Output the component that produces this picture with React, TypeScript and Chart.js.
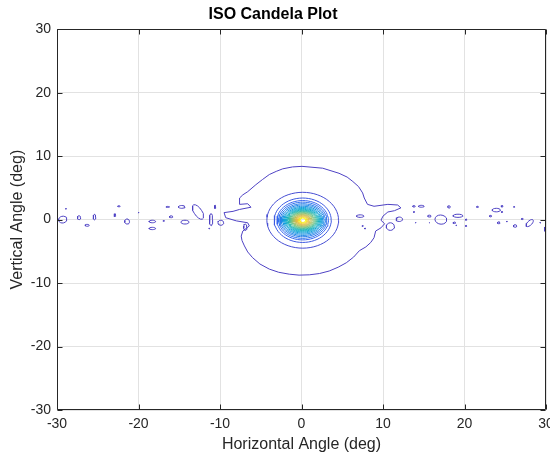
import React, { useEffect, useRef } from "react";
import { Chart, registerables } from "chart.js";

Chart.register(...registerables);

const TITLE = "ISO Candela Plot";
const X_LABEL = "Horizontal Angle (deg)";
const Y_LABEL = "Vertical Angle (deg)";
const AXIS_MIN = -30;
const AXIS_MAX = 30;
const AXIS_STEP = 10;

// Lowest-level contour (irregular), in degrees
const outerX = [0.06, 2.6, 4.6, 5.6, 6.3, 7.0, 7.5, 7.7, 8.1, 8.9, 10.6, 11.8, 12.2, 11.4, 10.6, 10.0, 9.75, 10.2, 9.75, 9.1, 8.9, 8.5, 7.9, 7.1, 6.4, 5.5, 4.5, 3.4, 2.2, 0.96, -0.3, -1.5, -2.8, -3.95, -5.1, -6.0, -6.6, -7.0, -7.3, -7.4, -7.2, -6.4, -6.6, -8.0, -9.3, -9.5, -8.4, -7.6, -6.2, -6.6, -7.6, -7.6, -7.2, -6.6, -5.6, -4.8, -3.95, -3.1, -2.3, -1.1, 0.06];
const outerY = [8.39, 8.1, 7.3, 6.7, 6.0, 5.2, 4.2, 3.4, 2.4, 2.1, 2.4, 2.3, 1.85, 1.4, 1.2, 0.55, -0.1, -0.65, -1.3, -1.8, -2.85, -3.6, -4.3, -4.9, -5.9, -6.8, -7.5, -8.1, -8.5, -8.7, -8.75, -8.6, -8.3, -7.8, -7.0, -6.0, -5.1, -4.15, -3.3, -2.6, -1.8, -1.0, -0.5, -0.2, 0.3, 1.1, 1.3, 1.6, 1.95, 2.5, 2.4, 3.4, 3.9, 4.4, 5.5, 6.3, 7.1, 7.6, 8.0, 8.3, 8.39];

// Concentric contours around the peak (higher levels inward)
const peakCx = 0.15;
const peakCy = -0.1;
const ringRx = [4.4, 3.5, 3.15, 2.95, 2.78, 2.62, 2.47, 2.33, 2.2, 2.07, 1.94, 1.81, 1.68, 1.55, 1.42, 1.29, 1.16, 1.03, 0.9, 0.77, 0.64, 0.5, 0.36];
const ringRy = [4.4, 3.5, 3.1, 2.85, 2.6, 2.4, 2.2, 2.02, 1.86, 1.72, 1.6, 1.5, 1.4, 1.3, 1.2, 1.1, 1.0, 0.9, 0.8, 0.7, 0.58, 0.46, 0.34];

// Small lowest-level islands along the horizon
const noiseX = [-29.3, -28.9, -27.3, -26.3, -25.4, -22.4, -22.9, -21.4, -20.0, -18.3, -18.3, -16.9, -16.4, -16.0, -14.7, -14.3, -12.7, -11.1, -10.6, -11.3, -9.9, -6.9,
  7.2, 7.5, 7.8, 10.9, 12.0, 13.8, 14.7, 13.8, 15.7, 14.0, 15.7, 17.1, 18.1, 19.2, 18.75, 19.0, 20.2, 20.2, 21.6, 23.9, 24.6, 24.6, 23.2, 24.2, 25.2, 26.1, 26.2, 27.1, 28.0, 29.3, 30.0];
const noiseY = [0.0, 1.7, 0.3, -0.9, 0.4, 2.1, 0.7, -0.3, 1.1, -0.3, -1.4, -0.2, 2.0, 0.45, 2.0, -0.4, 1.2, 0.0, 2.0, -1.4, -0.5, -1.2,
  0.55, -1.0, -1.4, -1.1, 0.05, 2.1, 2.1, 1.2, 0.55, -0.5, -0.5, 0.0, 2.0, 0.6, -0.5, -0.9, 0.0, -1.0, 2.0, 1.5, 2.1, 1.2, 0.55, -0.5, -0.3, 2.0, -1.0, 0.1, -0.55, -0.5, -1.5];
const noiseRx = [0.5, 0.05, 0.2, 0.25, 0.15, 0.15, 0.1, 0.3, 0.06, 0.4, 0.4, 0.08, 0.2, 0.2, 0.4, 0.5, 0.5, 0.2, 0.08, 0.07, 0.35, 0.2,
  0.45, 0.07, 0.07, 0.5, 0.4, 0.15, 0.35, 0.07, 0.2, 0.05, 0.05, 0.7, 0.15, 0.6, 0.15, 0.05, 0.1, 0.08, 0.1, 0.5, 0.12, 0.08, 0.12, 0.15, 0.05, 0.08, 0.2, 0.1, 0.3, 0.05, 0.2];
const noiseRy = [0.55, 0.05, 0.3, 0.15, 0.45, 0.08, 0.22, 0.4, 0.08, 0.2, 0.18, 0.06, 0.08, 0.15, 0.22, 0.3, 1.25, 0.95, 0.25, 0.06, 0.4, 0.5,
  0.2, 0.07, 0.07, 0.6, 0.35, 0.12, 0.15, 0.07, 0.15, 0.05, 0.05, 0.75, 0.18, 0.25, 0.12, 0.05, 0.1, 0.08, 0.1, 0.28, 0.12, 0.08, 0.12, 0.15, 0.05, 0.05, 0.2, 0.1, 0.65, 0.05, 0.45];
const noiseTilt = [-30, 0, 0, 0, 0, 0, 0, 0, 0, 0, 0, 0, 0, 0, 0, 0, 25, 0, 0, 0, 0, 0,
  0, 0, 0, 0, 0, 0, 0, 0, 0, 0, 0, 45, 0, 0, 0, 0, 0, 0, 0, 0, 0, 0, 0, 0, 0, 0, 0, 0, -35, 0, 0];

// parula-like colormap anchors (style)
const PARULA = [
  [78, 66, 196], [55, 100, 238], [35, 135, 232], [15, 165, 215], [30, 182, 185],
  [100, 193, 140], [172, 192, 100], [230, 186, 70], [249, 245, 20],
];

function parula(t: number): string {
  const s = Math.max(0, Math.min(1, t)) * (PARULA.length - 1);
  const i = Math.min(PARULA.length - 2, Math.floor(s));
  const f = s - i;
  const c = PARULA[i].map((v, k) => Math.round(v + (PARULA[i + 1][k] - v) * f));
  return `rgb(${c[0]},${c[1]},${c[2]})`;
}

function ellipse(cx: number, cy: number, rx: number, ry: number, tiltDeg: number, n: number) {
  const a = (tiltDeg * Math.PI) / 180;
  const pts: { x: number; y: number }[] = [];
  for (let k = 0; k <= n; k++) {
    const th = (2 * Math.PI * k) / n;
    const ex = rx * Math.cos(th);
    const ey = ry * Math.sin(th);
    pts.push({ x: cx + ex * Math.cos(a) - ey * Math.sin(a), y: cy + ex * Math.sin(a) + ey * Math.cos(a) });
  }
  return pts;
}

const FONT = "'Liberation Sans', Arial, Helvetica, sans-serif";
const AXIS_COLOR = "#262626";

const boxPlugin = {
  id: "matlabBox",
  afterDraw(chart: any) {
    const { ctx, chartArea: a, scales } = chart;
    const x = scales.x;
    const y = scales.y;
    const L = 5;
    ctx.save();
    ctx.strokeStyle = AXIS_COLOR;
    ctx.lineWidth = 1;
    ctx.beginPath();
    const l = Math.round(a.left) + 0.5;
    const r = Math.round(a.right) - 0.5;
    const t = Math.round(a.top) + 0.5;
    const b = Math.round(a.bottom) - 0.5;
    x.ticks.forEach((tk: any) => {
      const px = Math.round(x.getPixelForValue(tk.value)) + 0.5;
      ctx.moveTo(px, b);
      ctx.lineTo(px, b - L);
      ctx.moveTo(px, t);
      ctx.lineTo(px, t + L);
    });
    y.ticks.forEach((tk: any) => {
      const py = Math.round(y.getPixelForValue(tk.value)) + 0.5;
      ctx.moveTo(l, py);
      ctx.lineTo(l + L, py);
      ctx.moveTo(r, py);
      ctx.lineTo(r - L, py);
    });
    ctx.rect(l, t, r - l, b - t);
    ctx.stroke();
    ctx.restore();
  },
};

export default function App() {
  const ref = useRef<HTMLCanvasElement>(null);

  useEffect(() => {
    document.body.style.margin = "0";
    const nLevels = ringRx.length + 1;
    const datasets: any[] = [];
    const lineDs = (data: any[], color: string) => ({
      data,
      showLine: true,
      borderColor: color,
      backgroundColor: color,
      borderWidth: 1,
      pointRadius: 0,
      fill: false,
      tension: 0,
    });
    const baseColor = parula(0);
    datasets.push(lineDs(outerX.map((v, i) => ({ x: v, y: outerY[i] })), baseColor));
    noiseX.forEach((cx, i) => {
      datasets.push(lineDs(ellipse(cx, noiseY[i], noiseRx[i], noiseRy[i], noiseTilt[i], 16), baseColor));
    });
    ringRx.forEach((rx, i) => {
      datasets.push(lineDs(ellipse(peakCx, peakCy, rx, ringRy[i], 0, 60), parula((i + 1) / (nLevels - 1))));
    });

    const axisCommon = {
      type: "linear",
      min: AXIS_MIN,
      max: AXIS_MAX,
      border: { display: false },
      grid: { color: "#e2e2e2", lineWidth: 1, drawTicks: false },
    };

    const chart = new Chart(ref.current!, {
      type: "scatter",
      data: { datasets },
      plugins: [boxPlugin],
      options: {
        animation: false,
        responsive: false,
        devicePixelRatio: 1,
        layout: { padding: { left: 0, right: 4, top: 0, bottom: 0 } },
        plugins: {
          legend: { display: false },
          tooltip: { enabled: false },
          title: {
            display: true,
            text: TITLE,
            color: "#000",
            font: { family: FONT, size: 16, weight: "bold" },
            padding: { top: 5, bottom: 5 },
          },
        },
        scales: {
          x: {
            ...axisCommon,
            position: "bottom",
            ticks: { stepSize: AXIS_STEP, color: AXIS_COLOR, font: { family: FONT, size: 14 }, padding: 6, maxRotation: 0 },
            title: { display: true, text: X_LABEL, color: AXIS_COLOR, font: { family: FONT, size: 16 }, padding: { top: 0, bottom: 10 } },
            afterFit: (s: any) => {
              s.height = 54;
              s.paddingLeft = 0;
              s.paddingRight = 0;
            },
          },
          y: {
            ...axisCommon,
            position: "left",
            ticks: { stepSize: AXIS_STEP, color: AXIS_COLOR, font: { family: FONT, size: 14 }, padding: 6 },
            title: { display: true, text: Y_LABEL, color: AXIS_COLOR, font: { family: FONT, size: 16 }, padding: { top: 8, bottom: 0 } },
            afterFit: (s: any) => {
              s.width = 57;
              s.paddingTop = 0;
              s.paddingBottom = 0;
            },
          },
        },
      } as any,
    } as any);
    return () => chart.destroy();
  }, []);

  return <canvas ref={ref} width={550} height={464} style={{ display: "block", width: 550, height: 464 }} />;
}
